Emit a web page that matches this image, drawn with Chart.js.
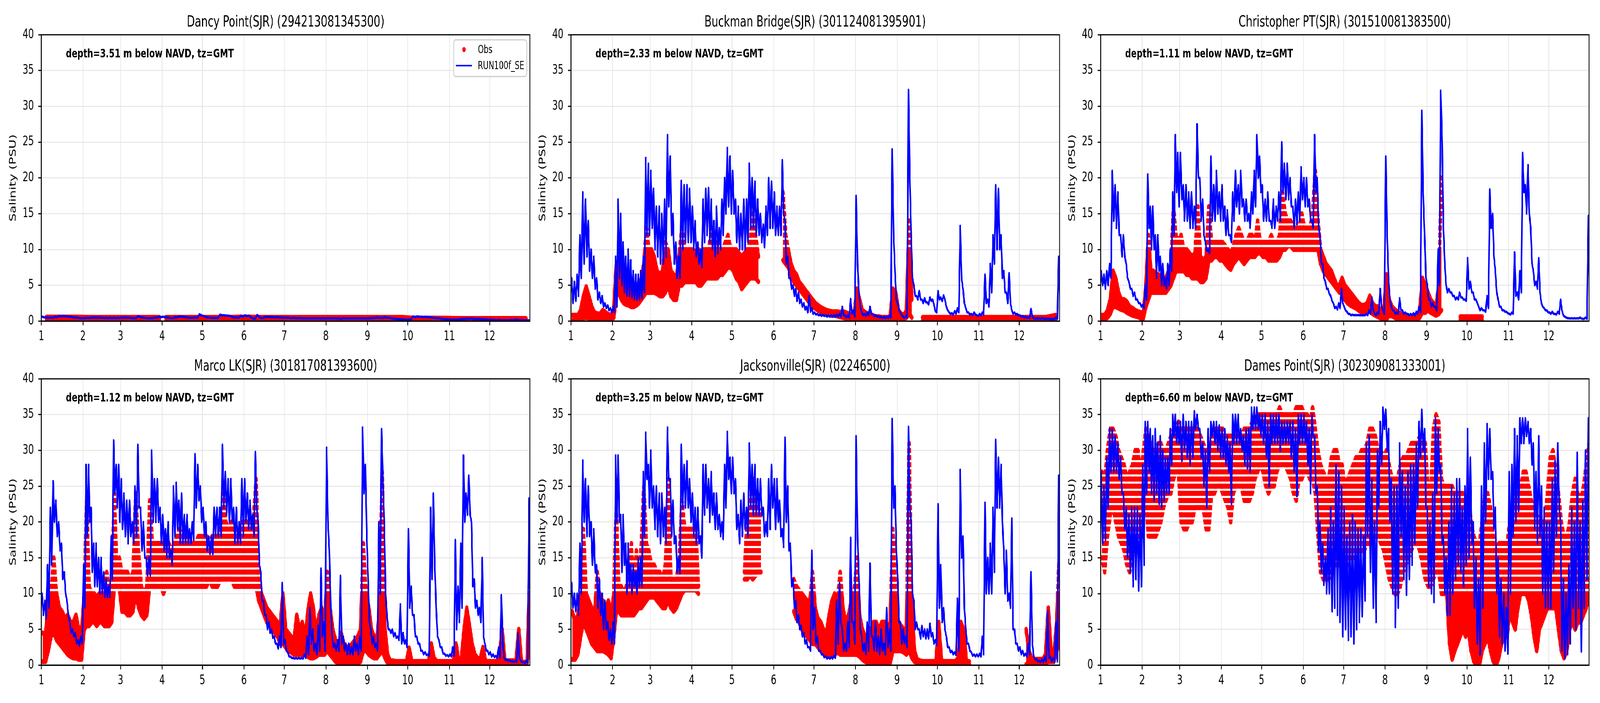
<!DOCTYPE html>
<html><head><meta charset="utf-8">
<script src="https://cdn.jsdelivr.net/npm/chart.js@4.4.1/dist/chart.umd.min.js"></script>
<style>
html,body{margin:0;padding:0;background:#fff;overflow:hidden;}
#stage{position:absolute;left:0;top:0;width:6000px;height:1800px;transform-origin:0 0;background:#fff;}
#stage canvas{position:absolute;}
</style></head><body>
<div id="stage"></div>
<script>
// ---------- axis definitions ----------
const monthStarts = [0,31,59,90,120,151,181,212,243,273,304,334];
const monthLengths = [31,28,31,30,31,30,31,31,30,31,30,31];
const monthLabels = ['1','2','3','4','5','6','7','8','9','10','11','12'];
const yTicksMax = 40;

// ---------- data: one row per month; values spread evenly through the month ----------
// model (RUN100f_SE): upper and lower envelope of the tidal oscillation
// Dancy Point
const dancyModelHigh = [
[0.6,0.5,0.5,0.6,0.7,0.7,0.65,0.6,0.5,0.4],
[0.4,0.45,0.5,0.5,0.5,0.45,0.45,0.45,0.45,0.45],
[0.5,0.5,0.45,0.4,0.7,0.5,0.4,0.4,0.5,0.6],
[0.6,0.5,0.4,0.55,0.65,0.6,0.5,0.45,0.5,0.95],
[0.7,0.5,0.45,0.45,0.9,0.8,0.75,0.55,0.5,0.75],
[0.8,0.75,0.35,0.85,0.4,0.6,0.6,0.55,0.55,0.5],
[0.5,0.45,0.45,0.4,0.4,0.4,0.4,0.4,0.4,0.4],
[0.4,0.4,0.4,0.35,0.4,0.4,0.4,0.4,0.4,0.4],
[0.4,0.45,0.5,0.45,0.55,0.45,0.35,0.3,0.25,0.2],
[0.2,0.65,0.65,0.6,0.6,0.55,0.45,0.4,0.3,0.25],
[0.2,0.2,0.25,0.3,0.35,0.35,0.3,0.3,0.25,0.2],
[0.2,0.15,0.15,0.1,0.1,0.15,0.2,0.1,0.1,0.1]];
const dancyModelLow = [
[0.5,0.45,0.45,0.55,0.65,0.65,0.6,0.5,0.45,0.4],
[0.4,0.4,0.45,0.45,0.45,0.4,0.4,0.4,0.4,0.4],
[0.45,0.45,0.4,0.4,0.55,0.45,0.4,0.4,0.45,0.55],
[0.55,0.45,0.4,0.5,0.6,0.55,0.45,0.45,0.45,0.8],
[0.6,0.45,0.4,0.4,0.8,0.75,0.7,0.5,0.45,0.6],
[0.7,0.5,0.3,0.6,0.4,0.55,0.55,0.5,0.5,0.45],
[0.45,0.4,0.4,0.4,0.35,0.35,0.35,0.35,0.35,0.35],
[0.35,0.35,0.35,0.3,0.35,0.35,0.35,0.35,0.35,0.35],
[0.35,0.4,0.45,0.4,0.45,0.4,0.3,0.25,0.2,0.15],
[0.15,0.55,0.6,0.55,0.55,0.5,0.4,0.35,0.25,0.2],
[0.15,0.15,0.2,0.25,0.3,0.3,0.25,0.25,0.2,0.15],
[0.15,0.1,0.1,0.1,0.1,0.1,0.15,0.1,0.08,0.08]];
const dancyObsHigh = [
[0.55,0.55,0.55,0.55],[0.5,0.5,0.5,0.5],[0.5,0.5,0.5,0.5,0.5,0.5,0.5,0.5],
[null,0.5,0.5,0.5,0.5,0.5,0.5,0.5,0.5,0.5,0.5,0.5,0.5,0.5,0.5,0.5],
[0.5,0.5,0.5,0.55],[0.55,0.5,0.5,0.5],[0.5,0.5,0.5,0.5],[0.5,0.5,0.5,0.5],
[0.5,0.5,0.5,0.5],[0.4,0.4,0.4,0.4],[0.35,0.35,0.35,0.35],[0.35,0.35,0.35,0.35]];
const dancyObsLow = [
[0.05,0.05,0.05,0.05],[0.05,0.05,0.05,0.05],[0.05,0.05,0.05,0.05,0.05,0.05,0.05,0.05],
[null,0.05,0.05,0.05,0.05,0.05,0.05,0.05,0.05,0.05,0.05,0.05,0.05,0.05,0.05,0.05],
[0.05,0.05,0.05,0.05],[0.05,0.05,0.05,0.05],[0.05,0.05,0.05,0.05],[0.05,0.05,0.05,0.05],
[0.05,0.05,0.05,0.05],[0.05,0.05,0.05,0.05],[0.05,0.05,0.05,0.05],[0.05,0.05,0.05,0.05]];

// Buckman Bridge
const buckModelHigh = [
[6,5.5,6.5,12,18,17,14,10,9,6,4,3.5,2.5,2.2,1.8],
[2,9,17,15,11,9,10,8.5,7,6.5,6.5,7,9,22.8,22],
[21,18.5,16,16,15,17,26,23,15,11,9,19.6,19,19,18.5],
[16,14,11,10,17,18.5,18.6,17,14,16,13,17,20,24.2,23],
[21,17,16,15,17,17,22,20,19.5,17,15,13.5,16,20,19.5],
[18,16,16,22.5,14,9,6,5,4.5,4,3,2.5,2,3.5,1.8],
[1.2,1,0.9,0.85,0.8,0.8,0.8,0.8,0.9,1,2,0.8,0.8,3.1,1.5],
[17.5,4,1.2,1,1.2,2,1,0.8,0.7,0.6,0.6,0.6,0.8,24,7],
[2.5,1.2,0.6,0.7,32.3,12,5,3.5,4.2,3,3.2,2.6,3.3,3,1.4],
[4.2,3.3,3.6,2,1.2,1.1,1.4,1.8,13.3,4.5,1.8,1.2,1,1.2,0.8],
[1,1.2,6.5,3,8,12,19,18.5,12,7,4,6.7,1.5,1.2,1],
[0.8,0.7,0.6,0.5,1.7,0.4,0.4,0.4,0.4,0.35,0.35,0.3,0.3,0.5,9]];
const buckModelLow = [
[2.5,2.8,3.5,6,8,9,7,6,4.5,3,2.5,2,1.8,1.5,1.2],
[1.3,2,6,5,4,3.5,3.5,3.3,3,3,3,3.2,4,12,12],
[13,10,9,8,8,9,16,12,8,6,6,10,11,11,11],
[10,9,8,7.5,11,12,11,10,9,9.5,10,12,15,16,15],
[15,11,10,10,10,11,13,13,12,12,11,10.3,12,13,13],
[12,12,12,15,8,6,4.5,3.5,2.8,2.5,2,1.6,1.2,1.3,1],
[0.9,0.8,0.7,0.7,0.6,0.6,0.6,0.6,0.6,0.6,0.8,0.5,0.5,1,0.6],
[8,2,0.8,0.7,0.8,1,0.7,0.6,0.5,0.4,0.4,0.4,0.5,12,3],
[1.5,0.8,0.4,0.5,20,6,3.5,3,3,2.5,2.6,2.3,2.8,2.3,1.2],
[3,2.8,3,1.5,1,0.9,1,1.2,6,2.5,1.2,0.9,0.8,0.9,0.7],
[0.8,0.9,2.5,2,4,8,10,10,6,4,2.5,2.5,1,0.9,0.8],
[0.6,0.5,0.45,0.4,0.6,0.3,0.3,0.3,0.3,0.3,0.3,0.25,0.25,0.3,2]];
const buckObsHigh = [
[0.8,0.8,0.8,1.5,3.5,4.8,3.5,2,1.2,1,1,1.5,1.2,0.9,0.8],
[1.5,8,8.5,6.5,6,5.5,5,4.8,4.5,5,5,6,8,13,10],
[10,9,7,6.5,7,11,10,7,6.5,6,9.5,13,10,10,10],
[10,9.5,10,9,10,10,10.5,13,10,11,10,10,11,12,10],
[10,10,9.5,9,9.5,10,11,15,12,9,null,null,null,null,null],
[null,null,null,18,12,10,8,7,6.5,5.5,5,4.5,4,3.5,3],
[2.5,2.2,1.9,1.7,1.5,1.4,1.3,1.3,1.3,1.2,1.3,1.2,1,0.9,0.8],
[4.5,3,1.5,1.2,1,0.9,0.7,0.6,0.6,0.5,0.5,0.5,0.6,4.5,4],
[1.5,1,0.8,1.5,14,3,null,null,null,0.5,0.5,0.5,0.5,0.5,0.5],
[0.5,0.5,0.5,0.5],[0.5,0.5,0.5,0.5],[0.5,0.5,0.5,0.8]];
const buckObsLow = [
[0.05,0.05,0.05,0.2,0.4,0.5,0.4,0.2,0.1,0.1,0.1,0.1,0.1,0.1,0.1],
[0.5,3.5,4,3,2.5,2.3,2.2,2,2,2.2,2.5,3,3.5,4,4],
[4,4,3.8,3.5,3.5,4,5,3.5,3,3,5,5,5.5,5.5,5.5],
[5.5,5.5,5,5,5.5,6,6,6,6,6,6.5,6.5,7,7.5,7.5],
[7,6,5.5,4.5,5,5.5,6,6,6,5.5,null,null,null,null,null],
[null,null,null,8.5,8,7.5,6.5,5.5,5,4.5,4,3.5,3,2.5,2],
[1.8,1.5,1.3,1.1,1,0.9,0.8,0.8,0.7,0.6,0.5,0.4,0.2,0.1,0.1],
[0.3,0.3,0.3,0.3,0.3,0.2,0.1,0.1,0.1,0.1,0.1,0.1,0.1,0.3,0.3],
[0.5,0.3,0.3,0.5,1,0.5,null,null,null,0.05,0.05,0.05,0.05,0.05,0.05],
[0.05,0.05,0.05,0.05],[0.05,0.05,0.05,0.05],[0.05,0.05,0.05,0.05]];

// Christopher PT
const chrisModelHigh = [
[7,6.5,7,8,21,19,18,12,12,8,5.5,4.5,4,3,2.5],
[2.3,5,20.5,16,16,12,12,9,8,6,8,10,18,26,23.5],
[23.5,19,19,18,18,16,27.5,20,17,11,10,23,19,21,18],
[19,16,15.5,12,18,21,19,21,17,17,15,18,21,26,23],
[19,17,18,14,17,16,18,25,22,22,20,16,17,18,21.5],
[20,20,17,14,26,20,12,8,5.5,4.5,3.5,2.5,2,2.5,4.5],
[2,1.3,1,0.9,0.85,0.85,0.8,0.8,1,1.5,3.3,1,1.2,4.5,1.5],
[23,6,2,1.5,1.2,3.2,1.5,1.2,1,1,1.1,1.3,2,29.4,12],
[5,3,2.5,2,10,32.2,13,5,4.5,4,3.5,3.3,4,3.3,3],
[8.8,5.5,4,3,2,1.8,1.5,3.5,18.4,15,7,3,2,1.5,1.3],
[1,1.2,9.6,4,7,23.5,19,21.8,13,7,5.5,8.8,2.5,1.8,1.5],
[1.2,1.3,1,1.3,3,0.8,0.5,0.4,0.4,0.4,0.4,0.5,0.3,0.5,14.7]];
const chrisModelLow = [
[5,4.5,5,6,14,13,12,9,9,6,4.5,3.5,3,2.5,2],
[1.8,3,13,10,10,6,7,5,5,4.5,5,7,12,18,16],
[17,14,14,13,13,13,20,14,12,9.8,9.5,14,14,15,14],
[14,12,12,11,14,16,15,16,14,14,13,15,16,20,18],
[14,14,14,13,13,14,14,18,17,17,16,13,13.5,14,17],
[16,16,14,13,18,13,8,6,4.5,3.8,2.8,1.8,1.6,1.8,2.5],
[1.5,1,0.8,0.8,0.8,0.8,0.8,0.8,0.8,1,1.5,0.8,1,2,1],
[12,3,1.5,1,1,1.5,1,1,0.8,0.8,0.8,1,1.2,18,6],
[3,2,2,1.5,5,25,8,4,4,3.5,3,3,3.3,3,2.8],
[4.5,4,3,2.5,1.5,1.5,1.3,1.8,13,9,4,2,1.5,1.3,1.1],
[0.9,1,3.5,3,4,18,15,15,8,5,4.5,4,2,1.5,1.2],
[1,1,0.9,1,1.5,0.6,0.4,0.35,0.35,0.35,0.35,0.35,0.3,0.3,3]];
const chrisObsHigh = [
[0.8,0.8,1.5,3,7,6,4,3,3,2.7,2,1.8,1.5,1.3,1.2],
[1,5,12,7,7,6.5,6.5,6,6,6,7,8,16,12,11],
[12,10,10,9.5,9,9.5,16,9,8.5,9,16,11,11,11,11],
[11,10.5,10,9.5,10.5,12,13,12,11,11,12,12,11,14,11],
[11,11,11,12,11,11,12,18,15,14,14,13,13,13,15],
[13,13,13,15,21,14,10,9,8,7.5,7,6,5,5,6],
[5,4.5,4,3.5,3,2.5,2.2,2.2,2.5,3.5,2.5,2,2,1.5,1.2],
[6.5,3,2,1.6,1.3,1,0.8,0.6,0.5,0.5,0.5,0.6,1.5,6,5],
[4,3,2.5,2,5,20,null,null,null,null,null,null,0.6,0.6,0.6],
[0.6,0.6,0.6,0.6,0.6,0.6,null,null,null,null,null,null,null,null,null],
[null],[null]];
const chrisObsLow = [
[0.2,0.2,0.5,1,2,2,1.8,1.6,1.5,1.2,1,0.8,0.7,0.6,0.4],
[0.4,2,3,4,4,4,4,4,4,4,4.5,5,6,7,7],
[7,7,6.5,6.5,6,6,6,5.5,5.5,6,8.5,8.5,9,9,8.5],
[8.5,8,7.5,7.2,8,8.5,9,8.5,8,8.5,9,9,9,9.5,9.5],
[9,9,8.5,8.5,8.5,8.5,9,10,10,10.5,10.5,10,10,10,10],
[10,10,10,10,10,10,8,7,6.5,6,5.5,5,4.5,4,4],
[3,2.5,2.2,2,1.8,1.5,1.2,1.2,1.2,1.5,1,0.8,0.6,0.4,0.2],
[0.2,0.8,0.7,0.5,0.3,0.2,0.1,0.1,0.05,0.05,0.05,0.1,0.5,1.2,1.2],
[1.5,1.2,1,0.8,1,1.5,null,null,null,null,null,null,0.15,0.15,0.15],
[0.15,0.15,0.15,0.15,0.15,0.15,null,null,null,null,null,null,null,null,null],
[null],[null]];

// Marco LK
const marcoModelHigh = [
[10,9,14,22,25.7,23,20,17,13,9,6,5,4.5,3.5,4],
[14,28,28,22,17,17,15,15,13,12,11,18,31.4,28,28],
[26,24,23,23,20,25,30.8,22,20,15,15,30,26,26,22],
[21,19,20,16,25,25.5,23,24,21,21,19,20,29.5,28,25],
[22,20,18,18,22,22,22,30.8,27,26,26,22,22,20,26],
[26,24,23,21,29.8,20,13,9,7,6,5,4,3,4,11.5],
[3.5,1.8,1.2,1,1,1,1,1.5,4,8,5,3,5.5,13.5,6],
[30.4,16,4,3,3.5,12.5,4,3,3,2.5,4,3,4,33.2,28],
[12,5,4,3,20,33,20,7,5,5,4.5,4,8.5,4.5,3.5],
[19,11,7,4,3,2,1.8,1.5,22,24,8,3.5,2.5,1.6,1.4],
[1.5,2.5,17.5,11,17,29.3,24,26.5,20,12,9,8,15,3,2],
[1.8,1.5,1.3,2.5,9.8,1,0.8,0.7,0.6,0.6,4.5,0.6,0.4,0.6,23.3]];
const marcoModelLow = [
[7,6.5,8,14,20,18,16,12,10,7,4.5,4,3,2.7,3],
[8,18,20,13,11,11,10,10,9.5,9.5,9.5,12,24,22,20],
[19,18,17,18,17,18,22,16,15,12.5,12.5,20,20,20,17],
[16,15,15,14,18,19,17,17,17,17,17,17.5,22,23,20],
[18,16,15.5,15.5,18,18,18,22,21,20,20,17,17,17,18],
[20,19,19,18,22,14,9,7,5,4.5,3.8,3,2.3,2.5,3],
[2,1.2,1,0.9,0.9,0.9,0.9,1,1.5,3,2,1.5,2,4,2],
[20,8,2.5,2,2,3,2,1.5,1.5,1.5,2,1.5,2,24,18],
[6,3,2.5,2,10,26,10,5,4.5,4,3.8,3.5,3,3,2.5],
[8,7,4,3,2,1.5,1.4,1.3,12,14,4,2.5,1.6,1.3,1.2],
[1.2,1.3,5,6,8,20,21,21,11,8,7,6,4,2,1.5],
[1.2,1.1,1,1,3,0.7,0.6,0.5,0.4,0.4,1,0.4,0.3,0.3,5]];
const marcoObsHigh = [
[4.5,4,9,10,15,10,8,7.5,6.5,7,6,6,7,5,4.5],
[10,23,11,10,10,9.5,10,10,12,13,10,10,24,14,15],
[13,13,13,12,13,24,16,11,10,11,23,17,17,17,17],
[17,18,17,16,17,18,19,18,18,18,17,17,17,18,18],
[18,18,17,18,18,18,19,24,20,19,20,19,18,19,20],
[20,20,19,20,26,12,10,9,8,7.5,7,6.5,6,5.5,10],
[5,4.5,4,3.5,7,5,6,3.5,7.5,10,8,4,7,8,5.5],
[13,8,5,3.5,2.5,4.5,3,2.5,2.5,3,3.5,4,5,17,10],
[8,5,4,3.5,8,27,5,1.5,0.6,0.6,0.5,0.5,0.5,0.5,0.5],
[2.4,0.5,0.5,0.5,0.5,0.5,0.5,0.5,3,1,0.5,0.5,0.5,0.5,0.5],
[0.5,0.5,3,0.5,1,5,8,5.5,3,1.5,1,0.8,2.5,0.5,0.5],
[0.5,0.5,0.5,1,5,0.6,0.6,0.6,0.6,0.6,5,0.4,0.4,0.4,13]];
const marcoObsLow = [
[0.5,0.5,2,4,4.5,3.5,3,2.5,2,1.5,1.2,1,1,0.8,0.8],
[5,5.5,5.5,6,6,5.5,6,6,5.5,5.5,5.5,6,11,11,11],
[7.5,7.5,7,7,7.5,10,8,7,6.5,7,11,11,11,11,11],
[10,11,11,11,11,11,11,11,11,11,11,11,11,11,11],
[11,11,12,11,11,11,12,12,12,12,12,11,11,11,11],
[11,11,11,11,11,9,8,7,6,5.5,5,4.5,4,3,3],
[2.5,2,1.8,1.5,1.5,1.5,1.5,1.5,1.2,1,1,1.2,1.5,1.5,1.5],
[2,1.5,1,0.5,0.3,0.2,0.1,0.05,0.05,0.05,0.1,0.3,0.5,2,2],
[1.5,1.2,1,1,1.5,2,1,0.3,0.2,0.2,0.2,0.2,0.2,0.2,0.2],
[0.2,0.2,0.2,0.2,0.2,0.2,0.2,0.2,0.2,0.2,0.2,0.2,0.2,0.2,0.2],
[0.3,0.3,0.3,0.3,0.3,0.3,0.3,0.3,0.3,0.3,0.3,0.3,0.3,0.3,0.3],
[0.3,0.3,0.3,0.3,0.3,0.3,0.3,0.3,0.3,0.3,0.3,0.3,0.3,0.3,3]];

// Jacksonville
const jaxModelHigh = [
[11.5,10,10,17,28.6,26,25,20,19,14,12,10,9,6,5],
[6,29.3,29.3,21,21,17,17,14,14,13,15,15,27,32.5,28],
[30,25,25,24,24,22,33.2,26,23,18,15,30.8,28,28.5,26],
[24,22,22,18,28,28,26,27,24,24,21,20,28,32.6,29],
[29,26,21,23,24,22,31,28,28,26,26,22,20,26,28],
[26,26,23,19,31.8,25,17,12,9,7,5.5,4.5,3.5,2.5,16],
[8,4,2,1.5,1.2,1.1,1.1,1.3,9,11.5,5,3,6,17.8,6],
[32,12,4,3,6,14.2,4,6,4,5,3,8,5,34.4,25],
[12,6,5,4,33.3,20,9,6,5,5.5,5,5,5.8,4.5,3.5],
[22.5,14,8,4,2.5,2,1.8,9.3,27.3,18,5,3,1.8,1.5,1.5],
[1.6,4,22.7,15,17,22,31.5,29,28,16,16,10,20.5,5,3],
[2.5,2,1.6,3,13,1.2,0.8,0.6,0.8,1.2,7.5,1.2,1,6,26.5]];
const jaxModelLow = [
[8,7.5,7,10,20,18,18,14,13,8,7,5,5,3.5,3],
[3,20,20,13,14,10,11,10,11,10,11,11,18,26,22],
[22,19,18,17,18,17,26,18,17,13,12.8,22,22,22,20],
[18,17,17,15,21,22,20,21,19,19,18,17.6,22,26,24],
[24,19,17,18,19,18,22,21,21,21,21,18,18,19,22],
[19,20,18,16.5,20,16,11,8,6,5,4,3,2.5,2,5],
[3,2,1.5,1.1,0.9,0.9,0.9,1,3,6,2,2,2.5,6,3],
[18,5,2,1.5,2,4,2,2,1.5,2,1.5,2.5,2,22,16],
[6,3,3,2.5,22,10,5,5,3.7,4,3.7,3.7,4,3,2.8],
[8,6,5,2.5,1.8,1.5,1.4,2,15,8,3,2,1.3,1.2,1.2],
[1.2,1.5,10,10,10,13,22,22,20,10,9,8,5,3,2],
[1.5,1.3,1.2,1.5,3,0.8,0.5,0.4,0.4,0.5,1,0.5,0.4,0.5,5]];
const jaxObsHigh = [
[7.5,6,7,9,19,10,9,8,7,13,9,9,8,9,7],
[10,22,11,11,10,11,12,17,10,16,12,17,25,17,16],
[14,14,13,13,12,14,26,12,12,12,15,23,19,19,19],
[19,19,11,null,null,null,null,null,null,null,null,null,null,null,null],
[null,null,null,null,13,21,22,26,22,22,21,null,null,null,null],
[null,null,null,null,null,null,null,12,11,10.5,10,9.5,9,9,13],
[8,6.5,6,5,4.5,7,9,10,9,13,8,6,7,9,10],
[15,7,5,4,4,5,6,6,5,6,6,5,6,19,10],
[6,5.5,5,5,31,8,2,0.8,0.6,0.5,0.5,0.5,0.5,0.5,0.5],
[6,0.6,0.5,0.5,0.5,0.5,0.5,1,6,5,0.5,0.5,null,null,null],
[null],
[null,null,5,2,1,0.8,0.8,0.8,0.8,1.5,8,2,1.5,6,16]];
const jaxObsLow = [
[0.8,0.8,1.5,4,6,5,4,3,2.5,2,2,2,1.8,1.5,1],
[4,7.5,7.5,7,7,7,7,7,7,7.5,8,8,8.5,9,9.5],
[9.5,9.5,9,8.5,8,8,9,8,7.5,8,9,10,10.5,10.5,10.5],
[10.5,10.5,10,null,null,null,null,null,null,null,null,null,null,null,null],
[null,null,null,null,12,12,12.5,12,12.5,13,13,null,null,null,null],
[null,null,null,null,null,null,null,7.5,6.5,6,5,4.5,4,3.5,3],
[3,2.5,2,1.8,1.5,1.5,1.5,1.5,1.8,1.5,1.5,1.5,1.5,1.5,1.5],
[1.5,1.2,0.8,0.5,0.3,0.2,0.2,0.2,0.2,0.2,0.2,0.2,0.3,2,2],
[2,2,1.8,1.5,2,1,0.5,0.2,0.1,0.1,0.1,0.1,0.1,0.1,0.1],
[0.1,0.1,0.1,0.1,0.1,0.1,0.1,0.1,0.1,0.1,0.1,0.1,null,null,null],
[null],
[null,null,0.1,0.1,0.1,0.1,0.1,0.1,0.1,0.2,0.5,0.5,0.5,2,3]];

// Dames Point
const damesModelHigh = [
[27,25,29,33,33,32,31,29,24,22,21,22,22,22,21],
[28,34,34,33,32,33,31,32,30,29,29,33,35,35,34],
[34,35,34,34,34,35.5,35,33,31,30,33,34,34,34,33.5],
[33,33,32,31,35,35,35,33,32,33,33,36,36,36,35],
[35,35,34,35,35,35,35,34,34,34,34,34,33,35,35],
[35,34,33,35,32,25,20,17,15,19,22,20,28,27,25],
[22,18,20,21,20,19,19,18,31,32,26,20,30,34,36],
[35.7,33,26,25,25,31,27,25,27,28,28,31,34,35.7,33],
[22,20,24,34.5,33,28,18,15,20,25,24,26,26,22,25],
[33,29,20,15,12,25,31,33.7,33,27,22,15,12,10,8],
[27,28,33,32,34.5,34.5,34.5,34,33,31,27,32,25,22,20],
[20,26,28.5,31,20,12,10,14,22,20,29.7,20,23,30,34.5]];
const damesModelLow = [
[17,17.5,22,27,27,27,26,24,19,15,13,11,12,10.4,11],
[14,24,27,24,23,24,22.5,22,23,24,24,28,32,31,31],
[28.5,30,29,28,29,33,33,29,25,22,27,32,31,30,29],
[29,28,27,22.5,31,31,31,30,28,27.5,27,33,33,33,32],
[31,29,25,31,31,31,30,31,31,31,29,27,23.6,31,31],
[31,28,24,32,24,16,13,11.2,10,10,7.5,8,7,6,4],
[5,3.5,4,3,5,6,6.8,9,18,13,8,6,22,28,33],
[30,20,10,5.3,8,18,12,9.8,12,14,17,22,29,30,22],
[11,10,8.8,24,27,17,10,7,7,10,12,14,13,11,14],
[15,17,8,3,1.5,8,20,26,26,19,10,4,3,2,1.6],
[10,18,20,21.5,31,31,32,31,28,19,17,18,10,8,8],
[8,13,18,22,2,1,1.5,3,8,5,8,1.9,8,12,22]];
const damesObsHigh = [
[27,26,30,33,33,32,30,29,28,26,27,28,30,30,26],
[30,33,32,31,30,30,31,31,30,30,31,32,33,33,34],
[33,33,33,33,33,33,33,32,31,30,30,32,33,33,33],
[33,32,32,32,32,32,32,32,33,33,33,34,34,35,35],
[35,35,35,35,35,35,36,35,35,35,35,35,36,36,36],
[35,35,34,36,33,30,28,27,26,26,29,30,30,28,28],
[25,26,27,28,29,29,30,30,31,33,33,32,30,30,29],
[30,28,26,26,26,28,29,29,30,31,31,31,32,32,31],
[25,24,33,35,34,26,25,25,25,25,24,24,24,24,22],
[24,20,18,17,17,20,24,24,22,18,16,17,17,17,17],
[20,22,26,25,25,27,27,25,23,22,21,20,20,20,24],
[29,30,27,24,20,18,18,20,24,26,24,23,25,28,31]];
const damesObsLow = [
[15,13,18,21,22,20,18,17,16,14,13,15,17,18,17],
[22,23,18,18,18,18,19,20,22,23,24,24,26,27,27],
[20,19,19,20,20,22,22,22,22,19,19,24,24,25,25],
[24,23,22,20,24,25,25,25,23,23,23,24,26,27,28],
[27,25,24,25,25,27,28,28,28,27,26,24,23,26,26],
[27,27,26,26,24,18,13,12,12,12,13,14,14,14,14],
[14,14,15,15,15,16,16,16,17,17,17,18,18,17,16],
[14,12,11,10,10,11,13,14,15,16,17,17,16,14,12],
[11,11,12,13,13,10,10,10,3,0.8,2,3,4,5,4],
[5,2,0.5,0,0,2,3,4,2,0.5,0,1,3,4,4],
[8,6,5,8,10,10,10,9,7,4,2,5,6,7,8],
[8,8,8,5,2,1,2,5,6,5,6,6,7,8,10]];

const stationTitles = [
 'Dancy Point(SJR) (294213081345300)','Buckman Bridge(SJR) (301124081395901)','Christopher PT(SJR) (301510081383500)',
 'Marco LK(SJR) (301817081393600)','Jacksonville(SJR) (02246500)','Dames Point(SJR) (302309081333001)'];
const stationDepths = ['3.51','2.33','1.11','1.12','3.25','6.60'];

// ---------- layout (reference pixel grid 6000 x 1800) ----------
const COL_LEFT = [155, 2141, 4127];
const ROW_TOP = [89, 970];
const PLOT_W = 1832, PLOT_H = 733;
const PAD_L = 155, PAD_T = 89, PAD_B = 75, PAD_R = 12;
const FONT = "'DejaVu Sans', sans-serif";
Chart.defaults.font.family = FONT;

function toPoints(rows){
  const pts = [];
  rows.forEach((row, m) => {
    const n = row.length;
    row.forEach((v, k) => pts.push({x: monthStarts[m] + (k + 0.5) * monthLengths[m] / n, y: v}));
  });
  return pts;
}
// model line: alternates between the upper and lower envelope readings
function toEnvelopePoints(hiRows, loRows){
  const pts = [];
  hiRows.forEach((row, m) => {
    const n = row.length, step = monthLengths[m] / n;
    row.forEach((v, k) => {
      pts.push({x: monthStarts[m] + (k + 0.25) * step, y: v});
      pts.push({x: monthStarts[m] + (k + 0.75) * step, y: loRows[m][k]});
    });
  });
  return pts;
}

// observation texture: values of 10 and above are recorded in whole units (rows of dots)
const obsTexture = {
  id: 'obsTexture',
  afterLayout(chart){
    const y = chart.scales.y;
    const off = document.createElement('canvas');
    off.width = 4; off.height = chart.height;
    const c = off.getContext('2d');
    c.fillStyle = '#ff0000';
    const p10 = y.getPixelForValue(10);
    c.fillRect(0, p10 - 6, 4, chart.height - (p10 - 6));
    for (let v = 11; v <= yTicksMax; v++) { const p = y.getPixelForValue(v); c.fillRect(0, p - 6.5, 4, 13); }
    chart.$obsPattern = chart.ctx.createPattern(off, 'repeat');
  }
};

const decor = {
  id: 'decor',
  afterDatasetsDraw(chart, args, opts){
    const {ctx, chartArea: a} = chart;
    ctx.save();
    ctx.strokeStyle = '#000'; ctx.lineWidth = 3;
    ctx.strokeRect(a.left, a.top, a.right - a.left, a.bottom - a.top);
    ctx.fillStyle = '#000'; ctx.textBaseline = 'alphabetic';
    ctx.font = '39px ' + FONT; ctx.textAlign = 'center';
    ctx.fillText(opts.title, (a.left + a.right) / 2, a.top - 21);
    ctx.font = 'bold 31px ' + FONT; ctx.textAlign = 'left';
    ctx.fillText(opts.depth, a.left + 92, a.top + 58);
    if (opts.legend) {
      const bw = 274, bh = 94, bx = a.right - 12 - bw, by = a.top + 13;
      ctx.beginPath();
      ctx.roundRect(bx, by, bw, bh, 8);
      ctx.fillStyle = 'rgba(255,255,255,0.8)'; ctx.fill();
      ctx.strokeStyle = '#cccccc'; ctx.lineWidth = 3; ctx.stroke();
      ctx.beginPath(); ctx.arc(bx + 39, by + 25, 6.5, 0, Math.PI * 2); ctx.fillStyle = '#ff0000'; ctx.fill();
      ctx.beginPath(); ctx.moveTo(bx + 9, by + 66); ctx.lineTo(bx + 69, by + 66);
      ctx.strokeStyle = '#0000ff'; ctx.lineWidth = 4; ctx.stroke();
      ctx.fillStyle = '#000'; ctx.font = '28px ' + FONT;
      ctx.fillText('Obs', bx + 91, by + 34);
      ctx.fillText('RUN100f_SE', bx + 91, by + 75);
    }
    ctx.restore();
  }
};

const stations = [
 {hiM: dancyModelHigh, loM: dancyModelLow, hi: dancyObsHigh, lo: dancyObsLow},
 {hiM: buckModelHigh, loM: buckModelLow, hi: buckObsHigh, lo: buckObsLow},
 {hiM: chrisModelHigh, loM: chrisModelLow, hi: chrisObsHigh, lo: chrisObsLow},
 {hiM: marcoModelHigh, loM: marcoModelLow, hi: marcoObsHigh, lo: marcoObsLow},
 {hiM: jaxModelHigh, loM: jaxModelLow, hi: jaxObsHigh, lo: jaxObsLow},
 {hiM: damesModelHigh, loM: damesModelLow, hi: damesObsHigh, lo: damesObsLow}];

const gridOpts = {color: '#e6e6e6', lineWidth: 2.5, tickColor: '#000', tickWidth: 3, tickLength: 11};
const borderOpts = {display: true, color: '#000', width: 3};
const stage = document.getElementById('stage');

stations.forEach((st, i) => {
  const col = i % 3, row = Math.floor(i / 3);
  const cv = document.createElement('canvas');
  const W = PAD_L + PLOT_W + PAD_R, H = PAD_T + PLOT_H + PAD_B;
  cv.width = W; cv.height = H;
  cv.style.left = (COL_LEFT[col] - PAD_L) + 'px';
  cv.style.top = (ROW_TOP[row] - PAD_T) + 'px';
  cv.style.width = W + 'px'; cv.style.height = H + 'px';
  stage.appendChild(cv);
  const patt = (ctx) => ctx.chart.$obsPattern || '#ff0000';
  new Chart(cv, {
    type: 'line',
    data: {datasets: [
      {label: 'RUN100f_SE', data: toEnvelopePoints(st.hiM, st.loM), borderColor: '#0000ff', borderWidth: 6,
       pointRadius: 0, fill: false, tension: 0, borderJoinStyle: 'round', borderCapStyle: 'round'},
      {label: 'Obs', data: toPoints(st.hi), borderColor: patt, backgroundColor: patt, borderWidth: 13,
       pointRadius: 0, fill: '+1', tension: 0, spanGaps: false, borderJoinStyle: 'round', borderCapStyle: 'round'},
      {label: 'Obs (low)', data: toPoints(st.lo), borderColor: patt, backgroundColor: patt, borderWidth: 13,
       pointRadius: 0, fill: false, tension: 0, spanGaps: false, borderJoinStyle: 'round', borderCapStyle: 'round'}
    ]},
    options: {
      responsive: false, animation: false, devicePixelRatio: 1,
      layout: {padding: {top: PAD_T, left: 0, right: PAD_R, bottom: 0}},
      plugins: {
        legend: {display: false}, tooltip: {enabled: false}, title: {display: false},
        decor: {title: stationTitles[i], depth: 'depth=' + stationDepths[i] + ' m below NAVD, tz=GMT', legend: i === 0}
      },
      scales: {
        x: {type: 'linear', min: 0, max: 364,
            afterBuildTicks: s => { s.ticks = monthStarts.map(v => ({value: v})); },
            afterFit: s => { s.height = PAD_B; },
            ticks: {callback: v => monthLabels[monthStarts.indexOf(v)], font: {size: 33}, color: '#000',
                    padding: 10, maxRotation: 0, autoSkip: false},
            grid: gridOpts, border: borderOpts},
        y: {type: 'linear', min: 0, max: yTicksMax,
            afterFit: s => { s.width = PAD_L; },
            ticks: {stepSize: 5, font: {size: 33}, color: '#000', padding: 17},
            title: {display: true, text: 'Salinity (PSU)', color: '#000', font: {size: 33}, padding: {top: 31, bottom: 0}},
            grid: gridOpts, border: borderOpts}
      }
    },
    plugins: [obsTexture, decor]
  });
});

// fit the 6000 x 1800 design to the actual window
function fitStage(){
  const sx = window.innerWidth / 6000, sy = window.innerHeight / 1800;
  stage.style.transform = 'scale(' + sx + ',' + sy + ')';
}
fitStage();
window.addEventListener('resize', fitStage);
</script>
</body></html>
